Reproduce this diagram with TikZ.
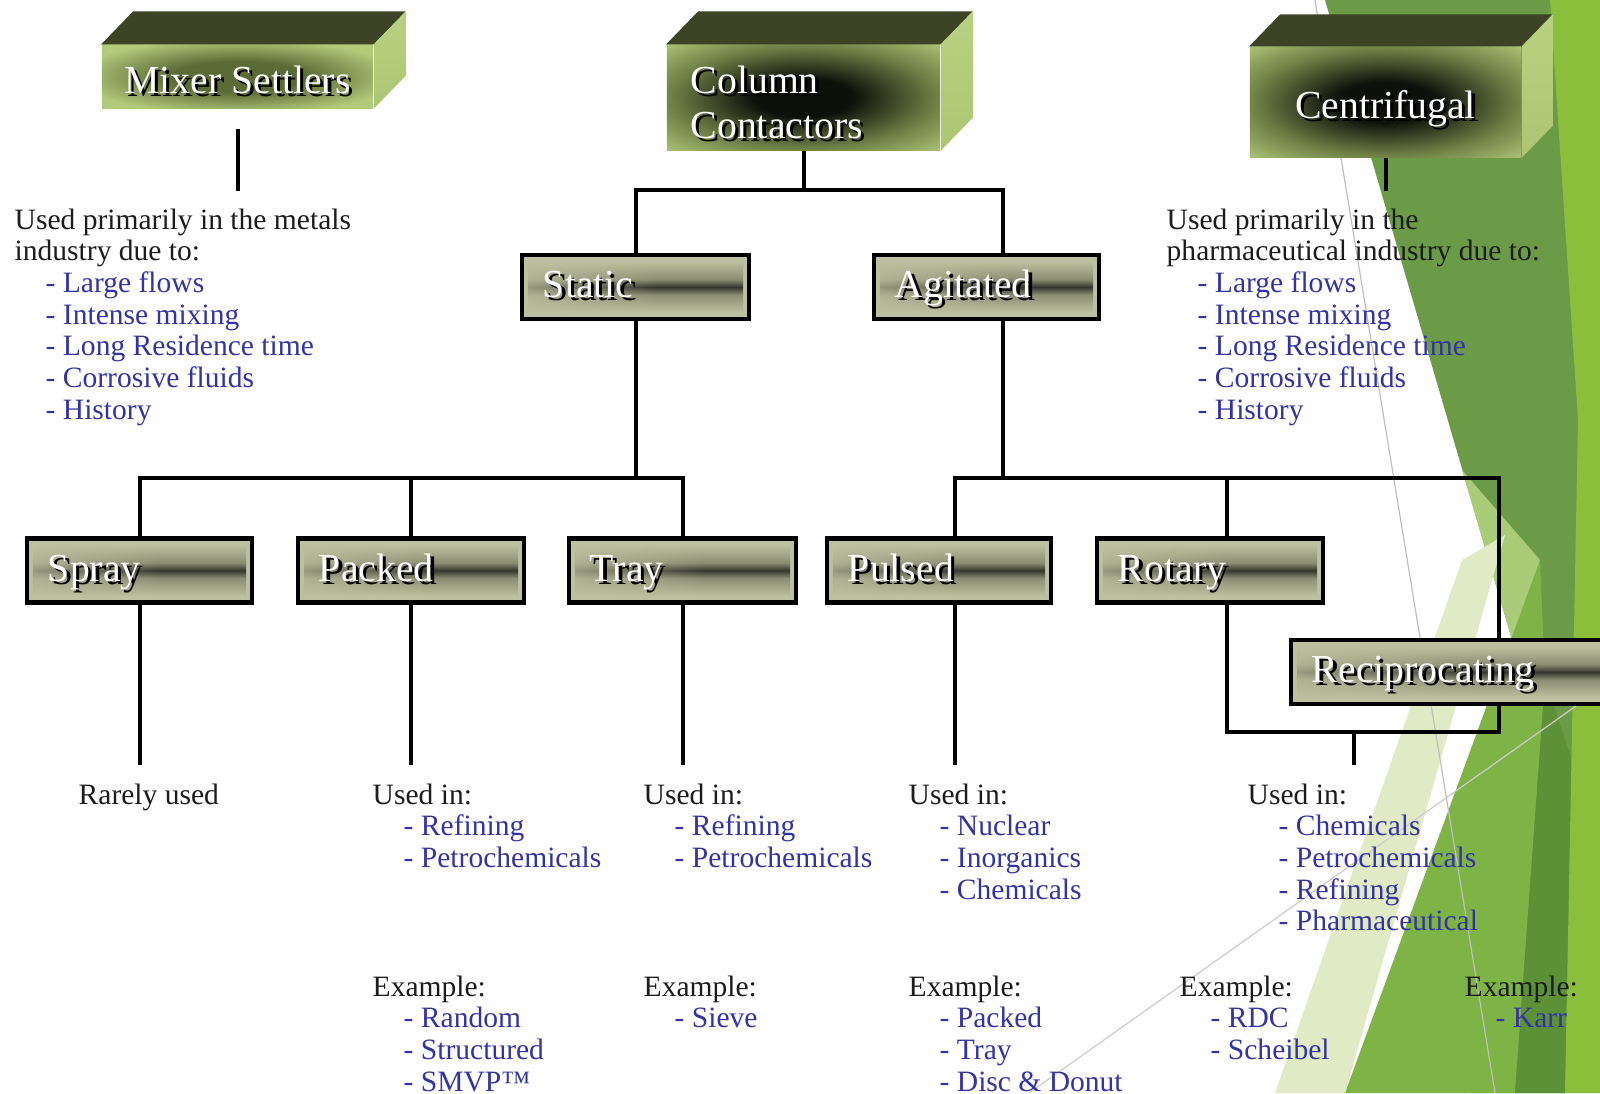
\documentclass[tikz,border=0pt]{standalone}
\usepackage{fontspec}
\setmainfont{Liberation Serif}
\usetikzlibrary{calc,fadings}
\definecolor{bxL}{HTML}{BEC19F}
\definecolor{bxM}{HTML}{8A8D72}
\definecolor{bxD}{HTML}{35362E}
\definecolor{fgL}{HTML}{B3CA7B}
\definecolor{fgM}{HTML}{6E7F45}
\definecolor{fgD}{HTML}{0E100A}
\definecolor{fgMS}{HTML}{5B6B36}
\definecolor{topc}{HTML}{3D4325}
\definecolor{sideL}{HTML}{BFD787}
\definecolor{sideD}{HTML}{A6C06C}
\definecolor{itemblue}{HTML}{3333A3}
\definecolor{txtc}{HTML}{1C1C1C}
\definecolor{gMid}{HTML}{6B9B46}
\definecolor{gBright}{HTML}{7DB445}
\definecolor{gDark}{HTML}{5C9137}
\definecolor{gLime}{HTML}{8BBE3A}
\definecolor{gPale}{HTML}{E0EBC6}
\definecolor{gSoft}{HTML}{A9CC78}
\pgfdeclareverticalshading{bandsh}{100bp}{color(0bp)=(bxL); color(30bp)=(bxL); color(44bp)=(bxM); color(50bp)=(bxD); color(56bp)=(bxM); color(70bp)=(bxL); color(100bp)=(bxL)}
\pgfdeclarehorizontalshading{hfsh}{100bp}{color(0bp)=(black); color(15bp)=(black); color(55bp)=(white); color(88bp)=(white); color(100bp)=(black)}
\pgfdeclarefading{hfade}{\pgfuseshading{hfsh}}
\pgfdeclareradialshading{frontglow}{\pgfpointorigin}{color(0bp)=(fgD); color(9bp)=(fgD); color(24bp)=(fgM); color(37bp)=(fgL); color(50bp)=(fgL)}
\pgfdeclareradialshading{msglow}{\pgfpointorigin}{color(0bp)=(fgMS); color(12bp)=(fgMS); color(30bp)=(fgL); color(50bp)=(fgL)}
\pgfdeclareverticalshading{sidesh}{100bp}{color(0bp)=(sideD); color(100bp)=(sideL)}
\newcommand{\shtx}[1]{\rlap{\kern0.9pt\raisebox{-0.9pt}{\textcolor{black}{#1}}}\textcolor{white}{#1}}
\newcommand{\blitem}[1]{\hspace*{0.31cm}\textcolor{itemblue}{- #1}}
\begin{document}
\begin{tikzpicture}[x=0.01cm, y=-0.01cm,
  conn/.style={draw=black, line width=0.04cm},
  lvbox/.style={draw=black, line width=0.045cm, fill=bxL, minimum height=0.64cm,
    inner xsep=0.21cm, inner ysep=0pt, align=left, text height=0.8em, text depth=0.2em,
    font=\fontsize{11.3}{13}\selectfont,
    path picture={\shade[shading=bandsh, path fading=hfade]
      ($(path picture bounding box.north west)+(0.06cm,-0.06cm)$) rectangle
      ($(path picture bounding box.south east)+(-0.06cm,0.06cm)$);}},
  front/.style={shade, shading=frontglow, inner sep=0pt},
  lbl/.style={inner sep=0pt, font=\fontsize{11.3}{12.8}\selectfont},
  txt/.style={anchor=north west, inner sep=0pt, align=left, text=txtc,
    font=\fontsize{8.4}{9}\selectfont}]
\clip (0,0) rectangle (1600,1093);
\fill[white] (0,0) rectangle (1600,1093);
% background decoration
\fill[gMid] (1325,0) -- (1600,0) -- (1600,1093) -- (1470,1093) -- (1515,650) -- cycle;
\fill[gSoft] (1462,470) -- (1540,560) -- (1515,650) -- cycle;
\fill[gBright] (1345,1093) -- (1540,560) -- (1545,680) -- (1515,1093) -- cycle;
\fill[gDark] (1515,1093) -- (1545,680) -- (1572,760) -- (1565,1093) -- cycle;
\fill[gLime] (1550,0) -- (1600,0) -- (1600,1093) -- (1565,1093) -- (1578,420) -- cycle;
\fill[gPale] (1275,1093) -- (1462,560) -- (1505,535) -- (1345,1093) -- cycle;
\draw[black!25, line width=0.012cm] (1315,0) -- (1495,1093);
\draw[black!20, line width=0.012cm] (1029,1093) -- (1600,689);
% helper coordinates
\coordinate (agx) at (1003,0);
\coordinate (pulx) at (955,0);
\coordinate (rotx) at (1227,0);
\coordinate (recx) at (1499,0);
\coordinate (hub) at (1354,732);
% top boxes
\node[front, minimum width=2.71cm, minimum height=0.63cm, shading=msglow] (ms) at (237.5,76.5) {};
\fill[topc] (ms.north west) -- ++(32,-33) -- ($(ms.north east)+(32,-33)$) -- (ms.north east) -- cycle;
\shade[shading=sidesh] (ms.north east) -- ++(32,-33) -- ($(ms.south east)+(32,-33)$) -- (ms.south east) -- cycle;
\node[lbl, anchor=base] (msL) at (237.5,93) {\shtx{Mixer Settlers}};
\node[front, minimum width=2.73cm, minimum height=1.05cm] (cc) at (803.5,97.5) {};
\fill[topc] (cc.north west) -- ++(32,-33) -- ($(cc.north east)+(32,-33)$) -- (cc.north east) -- cycle;
\shade[shading=sidesh] (cc.north east) -- ++(32,-33) -- ($(cc.south east)+(32,-33)$) -- (cc.south east) -- cycle;
\node[lbl, anchor=north west, align=left] (ccL) at (690,65) {\shtx{Column}\\\shtx{Contactors}};
\node[front, minimum width=2.71cm, minimum height=1.10cm] (cf) at (1385.5,102) {};
\fill[topc] (cf.north west) -- ++(31,-32) -- ($(cf.north east)+(31,-32)$) -- (cf.north east) -- cycle;
\shade[shading=sidesh] (cf.north east) -- ++(31,-32) -- ($(cf.south east)+(31,-32)$) -- (cf.south east) -- cycle;
\node[lbl, anchor=base] (cfL) at (1385.5,118) {\shtx{Centrifugal}};
% texts
\node[txt] (msTxt) at (14,208) {Used primarily in the metals\\industry due to:\\\blitem{Large flows}\\\blitem{Intense mixing}\\\blitem{Long Residence time}\\\blitem{Corrosive fluids}\\\blitem{History}};
\node[txt] (cfTxt) at (1166,208) {Used primarily in the\\pharmaceutical industry due to:\\\blitem{Large flows}\\\blitem{Intense mixing}\\\blitem{Long Residence time}\\\blitem{Corrosive fluids}\\\blitem{History}};
\node[txt] (sprayTxt) at (78,783) {Rarely used};
\node[txt] (packedUse) at (372,783) {Used in:\\\blitem{Refining}\\\blitem{Petrochemicals}};
\node[txt] (packedEx) at (372,975) {Example:\\\blitem{Random}\\\blitem{Structured}\\\blitem{SMVP™}};
\node[txt] (trayUse) at (643,783) {Used in:\\\blitem{Refining}\\\blitem{Petrochemicals}};
\node[txt] (trayEx) at (643,975) {Example:\\\blitem{Sieve}};
\node[txt] (pulsedUse) at (908,783) {Used in:\\\blitem{Nuclear}\\\blitem{Inorganics}\\\blitem{Chemicals}};
\node[txt] (pulsedEx) at (908,975) {Example:\\\blitem{Packed}\\\blitem{Tray}\\\blitem{Disc \& Donut}};
\node[txt] (rotUse) at (1247,783) {Used in:\\\blitem{Chemicals}\\\blitem{Petrochemicals}\\\blitem{Refining}\\\blitem{Pharmaceutical}};
\node[txt] (rotEx) at (1179,975) {Example:\\\blitem{RDC}\\\blitem{Scheibel}};
\node[txt] (recEx) at (1464,975) {Example:\\\blitem{Karr}};
% level boxes
\path (635.5,287) coordinate (pStatic) (986.5,287) coordinate (pAgit)
      (139.5,570.5) coordinate (pSpray) (411,570.5) coordinate (pPacked)
      (682.5,570.5) coordinate (pTray) (939,570.5) coordinate (pPulsed)
      (1210,570.5) coordinate (pRotary) (1455.5,672) coordinate (pRecip);
\node[lvbox, text width=1.85cm] (static) at (pStatic) {\shtx{Static}};
\node[lvbox, text width=1.83cm] (agitated) at (pAgit) {\shtx{Agitated}};
\node[lvbox, text width=1.83cm] (spray) at (pSpray) {\shtx{Spray}};
\node[lvbox, text width=1.84cm] (packed) at (pPacked) {\shtx{Packed}};
\node[lvbox, text width=1.85cm] (tray) at (pTray) {\shtx{Tray}};
\node[lvbox, text width=1.82cm] (pulsed) at (pPulsed) {\shtx{Pulsed}};
\node[lvbox, text width=1.84cm] (rotary) at (pRotary) {\shtx{Rotary}};
% connectors
\draw[conn] ($(ms.south)+(0,20)$) -- ($(msTxt.north -| ms.south)+(0,-17)$);
\draw[conn] (cf.south) -- ($(cfTxt.north -| cf.south)+(0,-17)$);
\draw[conn] (cc.south) -- (cc.south |- 0,190);
\draw[conn] (static.north) |- (agx |- 0,190) -- (agitated.north -| agx);
\draw[conn] (static.south) -- (static.south |- 0,478);
\draw[conn] (spray.north) |- (tray.north |- 0,478) -- (tray.north);
\draw[conn] (packed.north) -- (packed.north |- 0,478);
\draw[conn] (agitated.south -| agx) -- (agx |- 0,478);
\draw[conn] (pulsed.north -| pulx) |- (recx |- 0,478) -- (recx |- hub) -| (rotary.south -| rotx);
\draw[conn] (rotary.north -| rotx) -- (rotx |- 0,478);
\draw[conn] (hub) -- ($(hub |- rotUse.north)+(0,-18)$);
\draw[conn] (spray.south) -- ($(spray.south |- sprayTxt.north)+(0,-18)$);
\draw[conn] (packed.south) -- ($(packed.south |- packedUse.north)+(0,-18)$);
\draw[conn] (tray.south) -- ($(tray.south |- trayUse.north)+(0,-18)$);
\draw[conn] (pulsed.south -| pulx) -- ($(pulx |- pulsedUse.north)+(0,-18)$);
\node[lvbox, text width=2.87cm] (recip) at (pRecip) {\shtx{Reciprocating}};
\end{tikzpicture}
\end{document}
